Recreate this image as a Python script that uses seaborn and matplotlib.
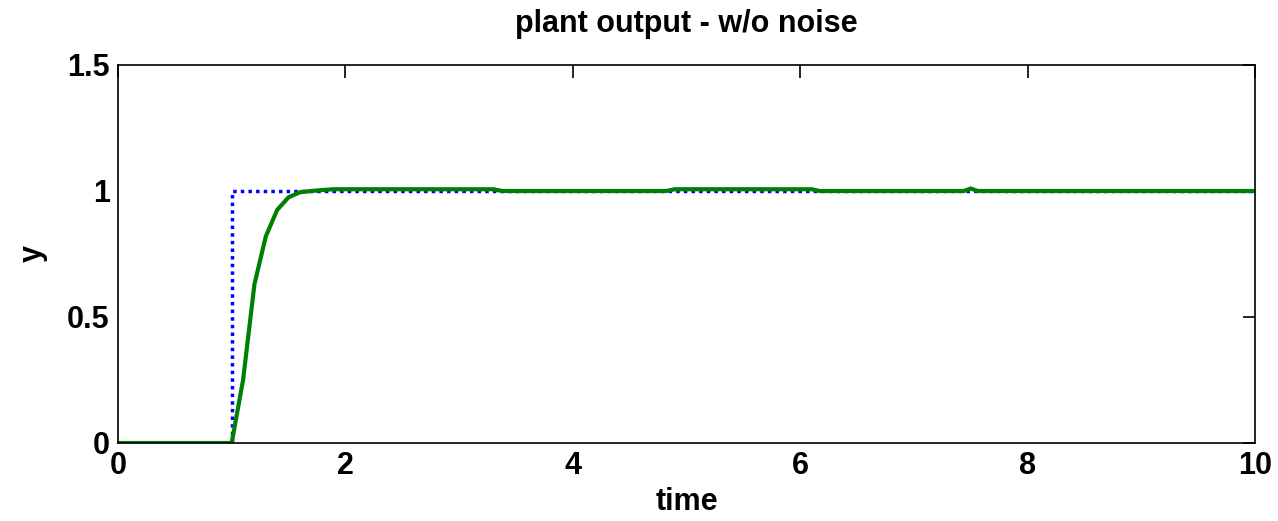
import matplotlib
matplotlib.use("Agg")
import matplotlib.pyplot as plt
import pandas as pd
import seaborn as sns

# Reference (step command) and plant response
ref_time = [0.0, 1.0, 1.0, 10.0]
ref_value = [0.0, 0.0, 1.0, 1.0]

out_time = [0.0, 1.0, 1.1, 1.2, 1.3, 1.4, 1.5, 1.6, 1.7, 1.8, 1.9,
            3.3, 3.38, 4.82, 4.9, 6.1, 6.17, 7.44, 7.5, 7.56, 10.0]
out_value = [0.0, 0.0, 0.25, 0.63, 0.82, 0.925, 0.975, 0.995, 1.0, 1.004, 1.007,
             1.007, 1.0, 1.0, 1.007, 1.007, 1.0, 1.0, 1.01, 1.0, 1.0]

x_ticks = [0, 2, 4, 6, 8, 10]
y_ticks = [0, 0.5, 1, 1.5]

sns.set_style("white")
plt.rcParams["font.family"] = ["Liberation Sans", "DejaVu Sans"]
plt.rcParams["font.weight"] = "bold"
plt.rcParams["text.color"] = "black"
plt.rcParams["axes.labelcolor"] = "black"
plt.rcParams["xtick.color"] = "black"
plt.rcParams["ytick.color"] = "black"

ref_df = pd.DataFrame({"time": ref_time, "y": ref_value})
out_df = pd.DataFrame({"time": out_time, "y": out_value})

fig = plt.figure(figsize=(12.78, 5.21), dpi=100)
ax = fig.add_axes([118 / 1278, 78 / 521, (1255 - 118) / 1278, (443 - 65) / 521])

sns.lineplot(data=ref_df, x="time", y="y", ax=ax, sort=False, estimator=None,
             color="#0000ff", linestyle=(0, (1, 1.2)), linewidth=2.5)
sns.lineplot(data=out_df, x="time", y="y", ax=ax, sort=False, estimator=None,
             color="#008000", linewidth=3.0)

ax.set_xlim(0, 10)
ax.set_ylim(0, 1.5)
ax.set_xticks(x_ticks)
ax.set_xticklabels([str(v) for v in x_ticks])
ax.set_yticks(y_ticks)
ax.set_yticklabels(["0", "0.5", "1", "1.5"])

ax.tick_params(axis="both", direction="in", length=9, width=1.2, colors="black",
               labelsize=22, top=True, right=True, pad=6)
for lab in ax.get_xticklabels() + ax.get_yticklabels():
    lab.set_fontweight("bold")
for sp in ax.spines.values():
    sp.set_visible(True)
    sp.set_color("black")
    sp.set_linewidth(1.2)

ax.set_xlabel("time", fontsize=22, fontweight="bold", labelpad=4)
ax.set_ylabel("y", fontsize=22, fontweight="bold", labelpad=14)
ax.set_title("plant output - w/o noise", fontsize=22, fontweight="bold", pad=24)

fig.savefig("out.png", dpi=100, facecolor="white")
